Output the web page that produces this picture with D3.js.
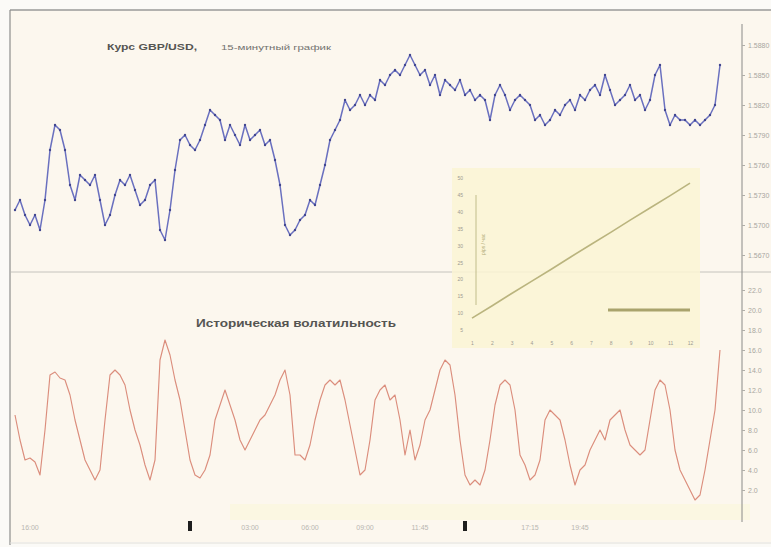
<!DOCTYPE html>
<html>
<head>
<meta charset="utf-8">
<script src="https://cdn.jsdelivr.net/npm/d3@7"></script>
<style>
  html, body { margin: 0; padding: 0; background: #fbfaf7; }
  svg { display: block; font-family: "Liberation Sans", Arial, sans-serif; }
</style>
</head>
<body>
<div id="chart"></div>
<script>
// GBP/USD 15-min close prices
const price = [
  1.5715, 1.5725, 1.5710, 1.5700, 1.5710, 1.5695, 1.5725, 1.5775, 1.5800, 1.5795,
  1.5775, 1.5740, 1.5725, 1.5750, 1.5745, 1.5740, 1.5750, 1.5725, 1.5700, 1.5710,
  1.5730, 1.5745, 1.5740, 1.5750, 1.5735, 1.5720, 1.5725, 1.5740, 1.5745, 1.5695,
  1.5685, 1.5715, 1.5755, 1.5785, 1.5790, 1.5780, 1.5775, 1.5785, 1.5800, 1.5815,
  1.5810, 1.5805, 1.5785, 1.5800, 1.5790, 1.5780, 1.5800, 1.5785, 1.5790, 1.5795,
  1.5780, 1.5785, 1.5765, 1.5740, 1.5700, 1.5690, 1.5695, 1.5705, 1.5710, 1.5725,
  1.5720, 1.5740, 1.5760, 1.5785, 1.5795, 1.5805, 1.5825, 1.5815, 1.5820, 1.5830,
  1.5820, 1.5830, 1.5825, 1.5845, 1.5840, 1.5850, 1.5855, 1.5850, 1.5860, 1.5870,
  1.5860, 1.5850, 1.5855, 1.5840, 1.5850, 1.5830, 1.5845, 1.5840, 1.5835, 1.5845,
  1.5830, 1.5835, 1.5825, 1.5830, 1.5825, 1.5805, 1.5830, 1.5840, 1.5830, 1.5815,
  1.5825, 1.5830, 1.5825, 1.5820, 1.5805, 1.5810, 1.5800, 1.5805, 1.5815, 1.5810,
  1.5820, 1.5825, 1.5815, 1.5830, 1.5825, 1.5835, 1.5840, 1.5830, 1.5850, 1.5835,
  1.5820, 1.5825, 1.5830, 1.5840, 1.5825, 1.5830, 1.5815, 1.5825, 1.5850, 1.5860,
  1.5815, 1.5800, 1.5810, 1.5805, 1.5805, 1.5800, 1.5805, 1.5800, 1.5805, 1.5810,
  1.5820, 1.5860
];

// historical volatility, %
const volatility = [
  9.5, 7.0, 5.0, 5.2, 4.8, 3.5, 8.0, 13.5, 13.8, 13.2,
  13.0, 11.5, 9.0, 7.0, 5.0, 4.0, 3.0, 4.0, 9.0, 13.5,
  14.0, 13.5, 12.5, 10.0, 8.0, 6.5, 4.5, 3.0, 5.0, 15.0,
  17.0, 15.5, 13.0, 11.0, 8.0, 5.0, 3.5, 3.2, 4.0, 5.5,
  9.0, 10.5, 12.0, 10.5, 9.0, 7.0, 6.0, 7.0, 8.0, 9.0,
  9.5, 10.5, 11.5, 13.0, 14.0, 11.5, 5.5, 5.5, 5.0, 6.5,
  9.0, 11.0, 12.5, 13.0, 12.5, 13.0, 11.0, 8.5, 6.0, 3.5,
  4.0, 7.0, 11.0, 12.0, 12.5, 11.0, 11.5, 9.0, 5.5, 8.0,
  5.0, 6.5, 9.0, 10.0, 12.0, 14.0, 15.0, 14.5, 11.5, 7.0,
  3.5, 2.5, 3.0, 2.5, 4.0, 7.0, 10.5, 12.5, 13.0, 12.5,
  10.0, 5.5, 4.5, 3.0, 3.5, 5.0, 9.0, 10.0, 9.5, 9.0,
  7.0, 4.5, 2.5, 4.0, 4.5, 6.0, 7.0, 8.0, 7.0, 9.0,
  9.5, 10.0, 8.0, 6.5, 6.0, 5.5, 6.0, 9.0, 12.0, 13.0,
  12.5, 10.0, 6.0, 4.0, 3.0, 2.0, 1.0, 1.5, 4.0, 7.0,
  10.0, 16.0
];

const priceTicks = [1.5670, 1.5700, 1.5730, 1.5760, 1.5790, 1.5820, 1.5850, 1.5880];
const volTicks = [2, 4, 6, 8, 10, 12, 14, 16, 18, 20, 22];

// time axis: bar index -> label
const timeTickIndex = [3, 47, 59, 70, 81, 103, 113];
const timeTickLabel = ["16:00", "03:00", "06:00", "09:00", "11:45", "17:15", "19:45"];
const dayBreakIndex = [35, 90];

// inset: regression line
const insetX = [1, 2, 3, 4, 5, 6, 7, 8, 9, 10, 11, 12];
const insetY = [8.5, 12.1, 15.8, 19.4, 23.0, 26.7, 30.3, 33.9, 37.6, 41.2, 44.8, 48.5];
const insetYTicks = [5, 10, 15, 20, 25, 30, 35, 40, 45, 50];

const width = 771, height = 547;

const svg = d3.select("#chart").append("svg")
  .attr("width", width)
  .attr("height", height);

// === background / frame ===
svg.append("rect")
  .attr("x", 10).attr("y", 10)
  .attr("width", width - 10).attr("height", 532)
  .attr("fill", "#fcf7ee");

svg.append("rect")
  .attr("x", 230).attr("y", 504)
  .attr("width", 520).attr("height", 16)
  .attr("fill", "#fbf7e2");

svg.append("line")
  .attr("x1", 10).attr("x2", width).attr("y1", 10).attr("y2", 10)
  .attr("stroke", "#9a9a98").attr("stroke-width", 1.5);
svg.append("line")
  .attr("x1", 10).attr("x2", 10).attr("y1", 10).attr("y2", 545)
  .attr("stroke", "#8e8e8c").attr("stroke-width", 1.2);
svg.append("line")
  .attr("x1", 10).attr("x2", width).attr("y1", 272).attr("y2", 272)
  .attr("stroke", "#b8b6b0").attr("stroke-width", 0.8);
svg.append("line")
  .attr("x1", 742).attr("x2", 742).attr("y1", 24).attr("y2", 522)
  .attr("stroke", "#8a8a88").attr("stroke-width", 1);
svg.append("line")
  .attr("x1", 10).attr("x2", width).attr("y1", 543).attr("y2", 543)
  .attr("stroke", "#e2e0da").attr("stroke-width", 1);

// === scales ===
const x = d3.scaleLinear().domain([0, price.length - 1]).range([15, 720]);
const yPrice = d3.scaleLinear().domain([1.5660, 1.5900]).range([265, 25]);
const yVol = d3.scaleLinear().domain([0, 24]).range([510, 270]);

// === right axes ===
const priceAxis = svg.append("g")
  .attr("transform", "translate(742,0)")
  .call(d3.axisRight(yPrice).tickValues(priceTicks).tickFormat(d3.format(".4f")).tickSize(3));
const volAxis = svg.append("g")
  .attr("transform", "translate(742,0)")
  .call(d3.axisRight(yVol).tickValues(volTicks).tickFormat(d3.format(".1f")).tickSize(3));
[priceAxis, volAxis].forEach(a => {
  a.select(".domain").remove();
  a.selectAll("line").attr("stroke", "#b0aea8");
  a.selectAll("text").attr("fill", "#a8a6a0").style("font-size", "7px").attr("x", 6);
});

// === top panel: price ===
const priceLine = d3.line()
  .x((d, i) => x(i))
  .y(d => yPrice(d));

svg.append("path")
  .datum(price)
  .attr("fill", "none")
  .attr("stroke", "#6a70bf")
  .attr("stroke-width", 1.5)
  .attr("stroke-linejoin", "round")
  .attr("d", priceLine);

svg.append("g")
  .selectAll("circle")
  .data(price)
  .join("circle")
  .attr("cx", (d, i) => x(i))
  .attr("cy", d => yPrice(d))
  .attr("r", 1.2)
  .attr("fill", "#41468f");

svg.append("text")
  .attr("x", 107).attr("y", 50)
  .attr("fill", "#555552")
  .style("font-size", "9px").style("font-weight", "bold")
  .attr("textLength", 90).attr("lengthAdjust", "spacingAndGlyphs")
  .text("Курс GBP/USD,");
svg.append("text")
  .attr("x", 221).attr("y", 50)
  .attr("fill", "#72726e")
  .style("font-size", "7px")
  .attr("textLength", 110).attr("lengthAdjust", "spacingAndGlyphs")
  .text("15-минутный график");

// === bottom panel: volatility ===
const volLine = d3.line()
  .x((d, i) => x(i))
  .y(d => yVol(d));

svg.append("path")
  .datum(volatility)
  .attr("fill", "none")
  .attr("stroke", "#db8d7c")
  .attr("stroke-width", 1.15)
  .attr("stroke-linejoin", "round")
  .attr("d", volLine);

svg.append("text")
  .attr("x", 196).attr("y", 327)
  .attr("fill", "#555552")
  .style("font-size", "10px").style("font-weight", "bold")
  .attr("textLength", 200).attr("lengthAdjust", "spacingAndGlyphs")
  .text("Историческая волатильность");

// === bottom time axis ===
svg.append("g")
  .selectAll("text")
  .data(timeTickIndex)
  .join("text")
  .attr("x", d => x(d))
  .attr("y", 530)
  .attr("text-anchor", "middle")
  .attr("fill", "#b8b6b0")
  .style("font-size", "7px")
  .text((d, i) => timeTickLabel[i]);

svg.append("g")
  .selectAll("rect")
  .data(dayBreakIndex)
  .join("rect")
  .attr("x", d => x(d) - 2)
  .attr("y", 521)
  .attr("width", 4)
  .attr("height", 10)
  .attr("fill", "#1e1e1e");

// === inset: regression ===
const inset = svg.append("g");
inset.append("rect")
  .attr("x", 452).attr("y", 168)
  .attr("width", 248).attr("height", 180)
  .attr("fill", "#faf5d4").attr("opacity", 0.85);

const ix = d3.scaleLinear().domain([1, 12]).range([472, 690]);
const iy = d3.scaleLinear().domain([5, 50]).range([330, 178]);

const insetYAxis = inset.append("g")
  .attr("transform", "translate(466,0)")
  .call(d3.axisLeft(iy).tickValues(insetYTicks).tickSize(0));
const insetXAxis = inset.append("g")
  .attr("transform", "translate(0,338)")
  .call(d3.axisBottom(ix).tickValues(insetX).tickSize(0));
[insetYAxis, insetXAxis].forEach(a => {
  a.select(".domain").remove();
  a.selectAll("text").attr("fill", "#9c9a90").style("font-size", "5px");
});

inset.append("line")
  .attr("x1", 476).attr("x2", 476).attr("y1", 195).attr("y2", 305)
  .attr("stroke", "#b4ae7a").attr("stroke-width", 0.8);
inset.append("text")
  .attr("transform", "translate(485,255) rotate(-90)")
  .attr("fill", "#b4ae7a")
  .style("font-size", "5px")
  .text("pips / час");

inset.append("path")
  .datum(insetY)
  .attr("fill", "none")
  .attr("stroke", "#bab47e")
  .attr("stroke-width", 1.6)
  .attr("d", d3.line().x((d, i) => ix(insetX[i])).y(d => iy(d)));

inset.append("line")
  .attr("x1", 608).attr("x2", 690).attr("y1", 310).attr("y2", 310)
  .attr("stroke", "#a9a36c").attr("stroke-width", 3);
</script>
</body>
</html>
